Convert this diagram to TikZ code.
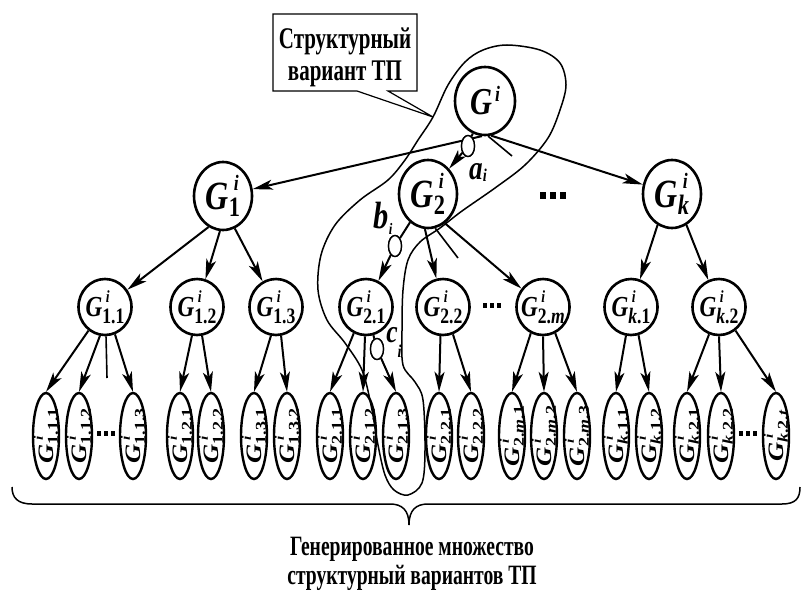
\documentclass[tikz,border=0pt]{standalone}
\usepackage{fontspec}
\setmainfont{Liberation Serif}[FakeStretch=0.8]
\newfontfamily\condfont{Liberation Serif}[FakeStretch=0.7]
\usetikzlibrary{arrows.meta,shapes.geometric}

% G with superscript i and subscript: #1 G size, #2 sup size, #3 sub size, #4 sup raise, #5 sub lower, #6 sub
\newcommand{\GL}[6]{{\fontsize{#1}{#1}\selectfont\bfseries\itshape G\rlap{\hspace{0.12em}\raisebox{#4}{\fontsize{#2}{#2}\selectfont i}}\raisebox{-#5}{\fontsize{#3}{#3}\selectfont\upshape #6}}}
\newcommand{\GA}[1]{\GL{40pt}{22pt}{28pt}{18.5pt}{7pt}{#1}}
\newcommand{\GB}[1]{\GL{29pt}{17pt}{22pt}{14pt}{7pt}{#1}}
\newcommand{\GC}[1]{\scalebox{1.5}[1]{\GL{22pt}{13pt}{15pt}{11pt}{4pt}{#1}}}
\newcommand{\Gtop}{{\fontsize{38pt}{38pt}\selectfont\bfseries\itshape G\hspace{0.08em}\raisebox{13pt}{\fontsize{22pt}{22pt}\selectfont i}}}
\newcommand{\dotsA}{\rule{6pt}{7pt}\hspace{4pt}\rule{6pt}{7pt}\hspace{4pt}\rule{6pt}{7pt}}
\newcommand{\dotsB}{\rule{4.5pt}{5pt}\hspace{2.5pt}\rule{4.5pt}{5pt}\hspace{2.5pt}\rule{4.5pt}{5pt}}

\begin{document}
\begin{tikzpicture}[x=1pt,y=-1pt,
  nd/.style={draw, ellipse, line width=2.6pt, inner sep=0pt},
  lvA/.style={nd, minimum width=58pt, minimum height=68pt},
  lvB/.style={nd, minimum width=53pt, minimum height=56pt},
  leaf/.style={nd, line width=2.4pt, minimum width=26pt, minimum height=86pt},
  arr/.style={line width=2pt, -{Stealth[length=20pt,width=10pt,inset=5pt]}},
  stub/.style={line width=1.6pt},
  mkr/.style={draw, ellipse, fill=white, line width=1.4pt, minimum width=13pt, minimum height=21pt, inner sep=0pt},
  contour/.style={line width=1.5pt},
  dotnode/.style={inner sep=0pt},
  lblB/.style={inner sep=0pt}
]
\useasboundingbox (0,0) rectangle (802,594);

% ---- nodes level 0 and 1
\node[lvA, minimum width=60pt, label={center:\Gtop}] (Gi) at (485,101) {};
\node[lvA, label={center:\GA{1}}] (G1) at (223,196) {};
\node[lvA, label={center:\GA{2}}] (G2) at (428,194) {};
\node[lvA, label={center:\GA{\textit{k}}}] (Gk) at (672,194) {};
\node[dotnode] (D1) at (553,195) {\dotsA};

% ---- level 2
\node[lvB, label={center:\GB{1.1}}] (G11) at (105,307) {};
\node[lvB, label={center:\GB{1.2}}] (G12) at (197,307) {};
\node[lvB, label={center:\GB{1.3}}] (G13) at (276,307) {};
\node[lvB, label={center:\GB{2.1}}] (G21) at (366,307) {};
\node[lvB, label={center:\GB{2.2}}] (G22) at (443,307) {};
\node[lvB, label={center:\GB{2.\textit{m}}}] (G2m) at (543,307) {};
\node[lvB, label={center:\GB{\textit{k}.1}}] (Gk1) at (631,307) {};
\node[lvB, label={center:\GB{\textit{k}.2}}] (Gk2) at (719,307) {};
\node[dotnode] (D2) at (492,305) {\dotsB};

% ---- leaves
\foreach \nm/\xx/\sb in {L111/46/1.1.1, L112/79/1.1.2, L113/133/1.1.3,
  L121/180/1.2.1, L122/211/1.2.2, L131/254/1.3.1, L132/287/1.3.2,
  L211/330/2.1.1, L212/363/2.1.2, L213/396/2.1.3, L221/439/2.2.1, L222/471/2.2.2,
  L2m1/512/2.\textit{m}.1, L2m2/544/2.\textit{m}.2, L2m3/577/2.\textit{m}.3,
  Lk11/616/\textit{k}.1.1, Lk12/649/\textit{k}.1.2, Lk21/687/\textit{k}.2.1,
  Lk22/721/\textit{k}.2.2, Lk2t/776/\textit{k}.2.\textit{t}}
  {\node[leaf, label={[rotate=90]center:\GC{\sb}}] (\nm) at (\xx,436) {};}
\node[dotnode] (D3) at (106,433) {\dotsB};
\node[dotnode] (D4) at (748,433) {\dotsB};

% ---- markers
\node[mkr] (ai) at (468,146) {};
\node[mkr] (bi) at (395,246) {};
\node[mkr] (ci) at (377,349) {};
\node[lblB, font=\fontsize{34pt}{34pt}\selectfont\bfseries\itshape] (la) at (478,172) {a\raisebox{-2pt}{\fontsize{18pt}{18pt}\selectfont i}};
\node[lblB, font=\fontsize{38pt}{38pt}\selectfont\bfseries\itshape] (lb) at (383,218) {b\raisebox{-6pt}{\fontsize{16pt}{16pt}\selectfont i}};
\node[lblB, font=\fontsize{32pt}{32pt}\selectfont\bfseries\itshape] (lc) at (394,342) {c\raisebox{-15pt}{\fontsize{18pt}{18pt}\selectfont i}};

% ---- connectors level 0 -> 1
\draw[arr] (Gi.-95) -- (G1);
\draw[line width=2pt] (Gi) -- (ai);
\draw[arr] (ai) -- (G2);
\draw[arr] (Gi.-80) -- (Gk);
\coordinate (s0) at (512,156);
\draw[stub] (Gi.-85) -- (s0);

% ---- level 1 -> 2
\draw[arr] (G1.-115) -- (G11);
\draw[arr] (G1.-95) -- (G12);
\draw[arr] (G1.-70) -- (G13);
\draw[line width=2pt] (G2) -- (bi);
\draw[arr] (bi) -- (G21);
\draw[arr] (G2.-95) -- (G22);
\coordinate (s1) at (458,258);
\draw[stub] (G2.-78) -- (s1);
\draw[arr] (G2.-60) -- (G2m);
\draw[arr] (Gk.-115) -- (Gk1);
\draw[arr] (Gk.-65) -- (Gk2);

% ---- level 2 -> leaves
\draw[arr] (G11.-125) -- (L111.north);
\draw[arr] (G11.-100) -- (L112.north);
\coordinate (s2) at (107,378);
\draw[stub] (G11.-88) -- (s2);
\draw[arr] (G11.-70) -- (L113.north);
\draw[arr] (G12.-100) -- (L121.north);
\draw[arr] (G12.-80) -- (L122.north);
\draw[arr] (G13.-100) -- (L131.north);
\draw[arr] (G13.-80) -- (L132.north);
\draw[arr] (G21.-115) -- (L211.north);
\draw[arr] (G21.-92) -- (L212.north);
\draw[line width=2pt] (G21) -- (ci);
\draw[arr] (ci) -- (L213.north);
\draw[arr] (G22.-95) -- (L221.north);
\draw[arr] (G22.-70) -- (L222.north);
\draw[arr] (G2m.-115) -- (L2m1.north);
\draw[arr] (G2m.-90) -- (L2m2.north);
\draw[arr] (G2m.-65) -- (L2m3.north);
\draw[arr] (Gk1.-100) -- (Lk11.north);
\draw[arr] (Gk1.-75) -- (Lk12.north);
\draw[arr] (Gk2.-110) -- (Lk21.north);
\draw[arr] (Gk2.-90) -- (Lk22.north);
\draw[arr] (Gk2.-55) -- (Lk2t.north);

% redraw markers on top
\node[mkr] at (ai) {};
\node[mkr] at (bi) {};
\node[mkr] at (ci) {};

% ---- contour
\draw[contour] plot[smooth cycle, tension=0.55] coordinates {
 (465,62) (483,50) (507,45) (540,50) (560,63) (566,85) (560,110) (548,138)
 (525,165) (495,188) (462,211) (440,228) (420,242) (408,260) (403,290)
 (402,330) (403,365) (415,382) (423,400) (425,450) (422,483) (408,495)
 (394,490) (385,475) (378,445) (371,405) (362,370) (345,343) (327,320)
 (318,290) (321,255) (335,225) (360,200) (388,180) (405,160) (418,140)
 (433,117) (448,85)};

% ---- callout box
\coordinate (tip) at (433,117);
\draw[line width=1.2pt, fill=white] (357,91) -- (273,91) -- (273,14) -- (417,14) -- (417,91) -- (388,91) -- (tip) -- cycle;
\node[align=center, font=\fontsize{30pt}{32pt}\selectfont\condfont\bfseries] (box) at (345,57) {Структурный\\вариант ТП};

% ---- brace
\draw[line width=1.5pt] (12,487) .. controls (12,498) and (18,504) .. (32,504) -- (390,504)
  .. controls (402,504) and (409,510) .. (409,525)
  .. controls (409,510) and (416,504) .. (428,504) -- (782,504)
  .. controls (796,504) and (800,498) .. (800,487);

\node[align=center, font=\fontsize{28pt}{29pt}\selectfont\condfont\bfseries] (cap) at (412,564) {Генерированное множество\\структурный вариантов ТП};
\end{tikzpicture}
\end{document}
